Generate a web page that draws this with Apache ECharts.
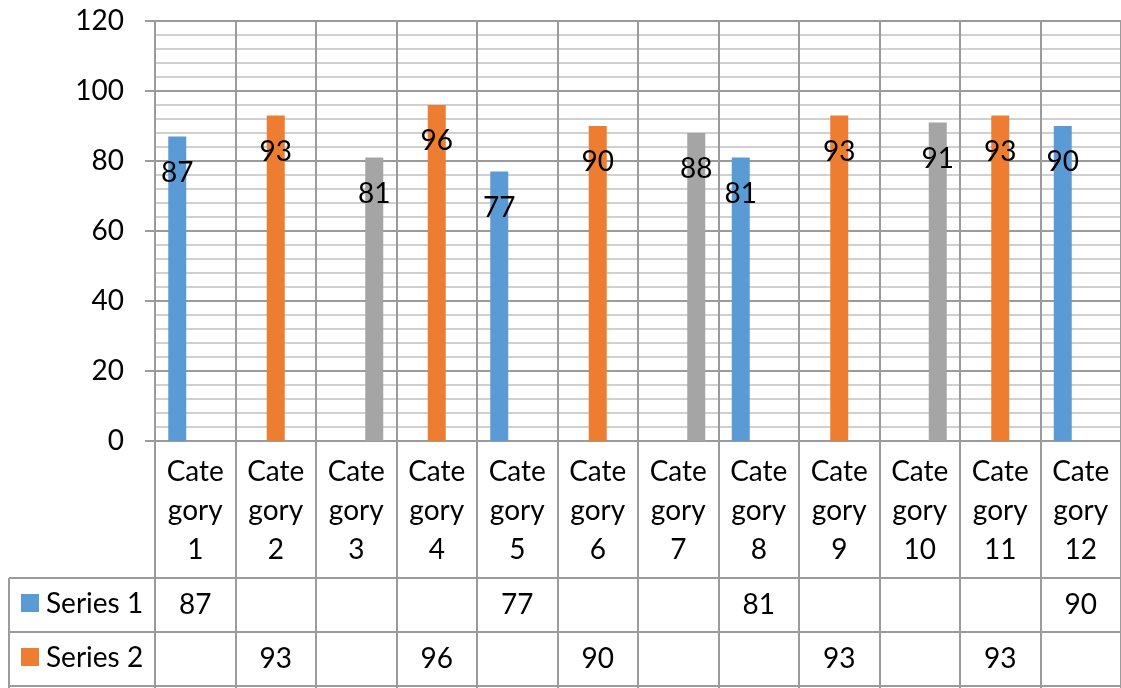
<!DOCTYPE html>
<html>
<head>
<meta charset="utf-8">
<style>
  html, body { margin: 0; padding: 0; background: #ffffff; }
  #chart { width: 1121px; height: 688px; }
</style>
<script src="https://cdn.jsdelivr.net/npm/echarts@6/dist/echarts.min.js"></script>
</head>
<body>
<div id="chart"></div>
<script>
// Chart data
var categories = ['Category 1', 'Category 2', 'Category 3', 'Category 4', 'Category 5', 'Category 6',
                  'Category 7', 'Category 8', 'Category 9', 'Category 10', 'Category 11', 'Category 12'];
var seriesNames = ['Series 1', 'Series 2', 'Series 3'];
var series1 = [87, null, null, null, 77, null, null, 81, null, null, null, 90];
var series2 = [null, 93, null, 96, null, 90, null, null, 93, null, 93, null];
var series3 = [null, null, 81, null, null, null, 88, null, null, 91, null, null];
var seriesColors = ['#5B9BD5', '#ED7D31', '#A5A5A5'];
var yTicks = [0, 20, 40, 60, 80, 100, 120];

var FONT = 'Lato, "Open Sans", sans-serif';
var LINE = '#9b9b9b';
var MINOR = '#d0d0d0';

var GRID_LEFT = 155, GRID_TOP = 21, GRID_BOTTOM_Y = 441;
var ROW_TOPS = [578, 632, 686];   // data table row top borders
var ROW_H = 54;
var TABLE_LEFT = 9;

var chart = echarts.init(document.getElementById('chart'), null, { renderer: 'canvas' });

var allSeries = [series1, series2, series3];

var option = {
  animation: false,
  backgroundColor: '#ffffff',
  grid: {
    left: GRID_LEFT,
    top: GRID_TOP,
    right: -3,
    height: GRID_BOTTOM_Y - GRID_TOP,
    containLabel: false
  },
  xAxis: {
    type: 'category',
    data: categories,
    boundaryGap: true,
    axisLine: { show: true, lineStyle: { color: LINE, width: 2 } },
    axisTick: {
      show: true, interval: 0, alignWithLabel: false, inside: false,
      length: 688 - GRID_BOTTOM_Y + 10,
      lineStyle: { color: LINE, width: 2 }
    },
    splitLine: { show: true, interval: 0, lineStyle: { color: LINE, width: 2 } },
    axisLabel: {
      interval: 0,
      margin: 11,
      color: '#000000',
      fontFamily: FONT,
      fontSize: 28,
      lineHeight: 39,
      align: 'center',
      formatter: function (v) {
        var num = v.replace('Category ', '');
        return 'Cate\ngory\n' + num;
      }
    }
  },
  yAxis: {
    type: 'value',
    min: yTicks[0],
    max: yTicks[yTicks.length - 1],
    interval: 20,
    axisLine: { show: true, lineStyle: { color: LINE, width: 2 } },
    axisTick: { show: true, length: 10, lineStyle: { color: LINE, width: 2 } },
    axisLabel: {
      margin: 31,
      color: '#000000',
      fontFamily: FONT,
      fontSize: 28
    },
    splitLine: { show: true, lineStyle: { color: LINE, width: 2 } },
    minorTick: { show: false, splitNumber: 5 },
    minorSplitLine: { show: true, lineStyle: { color: MINOR, width: 2 } }
  },
  series: allSeries.map(function (vals, i) {
    return {
      name: seriesNames[i],
      type: 'bar',
      data: vals,
      barWidth: 18,
      barGap: '0%',
      itemStyle: { color: seriesColors[i] },
      label: {
        show: true,
        position: 'insideTop',
        distance: 22,
        color: '#000000',
        fontFamily: FONT,
        fontSize: 28,
        lineHeight: 28
      }
    };
  })
};

chart.setOption(option);

// Data table beneath the category axis
function buildTable() {
  var gfx = [];
  var rightX = 1121 + 10;
  var lineStyle = { stroke: LINE, lineWidth: 2 };
  for (var r = 0; r < ROW_TOPS.length; r++) {
    var top = ROW_TOPS[r];
    gfx.push({
      type: 'line', silent: true,
      shape: { x1: TABLE_LEFT, y1: top, x2: rightX, y2: top },
      style: lineStyle
    });
    var cy = top + ROW_H / 2;
    // legend key and series name
    gfx.push({
      type: 'rect', silent: true,
      shape: { x: 21, y: cy - 11, width: 18, height: 18 },
      style: { fill: seriesColors[r] }
    });
    gfx.push({
      type: 'text', silent: true,
      x: 46, y: cy - 1,
      style: {
        text: seriesNames[r], fill: '#000000',
        font: '28px ' + FONT, textAlign: 'left', textVerticalAlign: 'middle'
      }
    });
    // values per category, centered in each column
    var vals = allSeries[r];
    for (var c = 0; c < categories.length; c++) {
      if (vals[c] == null) continue;
      var px = chart.convertToPixel({ xAxisIndex: 0 }, categories[c]);
      gfx.push({
        type: 'text', silent: true,
        x: px, y: cy,
        style: {
          text: String(vals[c]), fill: '#000000',
          font: '28px ' + FONT, textAlign: 'center', textVerticalAlign: 'middle'
        }
      });
    }
  }
  // left border of the series-name column
  gfx.push({
    type: 'line', silent: true,
    shape: { x1: TABLE_LEFT, y1: ROW_TOPS[0], x2: TABLE_LEFT, y2: 700 },
    style: lineStyle
  });
  chart.setOption({ graphic: { elements: gfx } });
}

buildTable();
</script>
</body>
</html>
